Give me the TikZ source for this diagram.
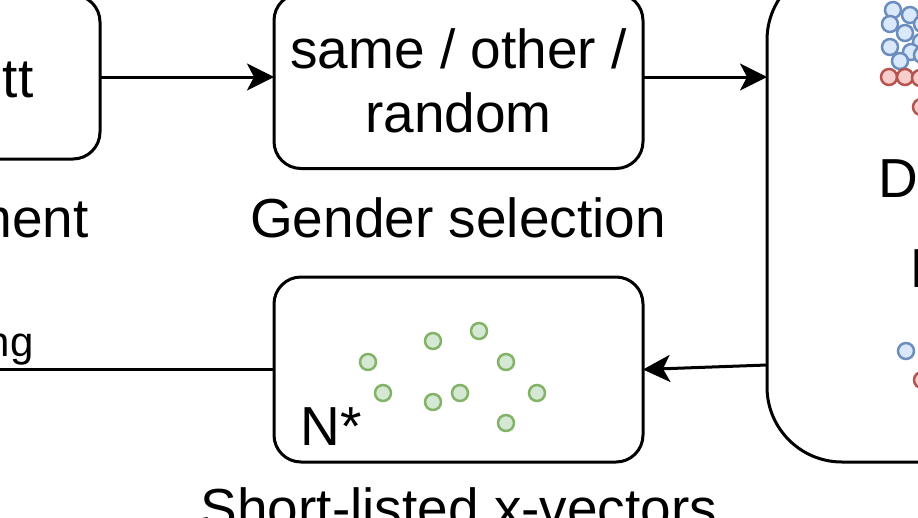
\documentclass[tikz,border=0pt]{standalone}
\usepackage{fontspec}
\setmainfont{Liberation Sans}
\usetikzlibrary{arrows.meta}

\definecolor{vecgreen}{HTML}{82B366}
\definecolor{vecgreenfill}{HTML}{D5E8D4}
\definecolor{vecblue}{HTML}{6C8EBF}
\definecolor{vecbluefill}{HTML}{DAE8FC}
\definecolor{vecred}{HTML}{B85450}
\definecolor{vecredfill}{HTML}{F8CECC}

\begin{document}
\begin{tikzpicture}[x=1pt,y=-1pt,
  box/.style={draw, line width=3pt, rounded corners=27pt, inner sep=0pt, outer sep=0pt},
  flow/.style={line width=3pt, -{Stealth[length=27pt,width=27pt,inset=7pt]}},
  big/.style={font=\fontsize{55pt}{64pt}\selectfont},
  small/.style={font=\fontsize{42pt}{50pt}\selectfont},
  xgreen/.style={draw=vecgreen, fill=vecgreenfill, line width=2.5pt},
  xblue/.style={draw=vecblue, fill=vecbluefill, line width=2.5pt},
  xred/.style={draw=vecred, fill=vecredfill, line width=2.5pt}]
\useasboundingbox (0,0) rectangle (918,517);
\clip (0,0) rectangle (918,517);

% boxes
\node[box, minimum width=350pt, minimum height=164pt] (enrol) at (-75,77) {};
\node[box, big, align=center, minimum width=369pt, minimum height=175pt] (gender) at (458.5,81) {same / other /\\random};
\node[box, rounded corners=75pt, minimum width=533pt, minimum height=497pt] (pool) at (1033.5,213.5) {};
\node[box, minimum width=369pt, minimum height=185pt] (short) at (458.5,369.5) {};

% labels
\node[big, anchor=base east] (enroltxt) at (37,97) {tt};
\node[big, anchor=base east] (enrolcap) at (92,237) {ment};
\node[big, anchor=base] (gendercap) at (458,237) {Gender selection};
\node[big, anchor=base west] (pooltxta) at (875,197) {D};
\node[big, anchor=base west] (pooltxtb) at (907,287) {N};
\node[big, anchor=base west] (nstar) at (297,445) {N*};
\node[big, anchor=base] (shortcap) at (459,527) {Short-listed x-vectors};
\node[small, anchor=base east] (linetxt) at (37,356) {ng};

% connectors
\coordinate (poolout) at (pool.west |- 0,365);
\coordinate (leftend) at (-20,369.5);
\draw[flow] (enrol.east) -- (enrol.east -| gender.west);
\draw[flow] (enrol.east -| gender.east) -- (enrol.east -| pool.west);
\draw[flow] (poolout) -- (short.east);
\draw[line width=3pt] (short.west) -- (leftend);

% x-vectors
\foreach \x/\y in {368/362, 433/341, 479/331, 506/362, 383/393, 433/402, 460/393, 537/393, 506/423}
  \draw[xgreen] (\x,\y) circle (8pt);
\foreach \x/\y in {893/10, 910/15, 890/24, 922/24, 905/33, 921/42, 890/47, 911/52, 922/55, 900/61, 906/351}
  \draw[xblue] (\x,\y) circle (8pt);
\foreach \x/\y in {889/77, 905/77, 920/78, 921/107, 922/380}
  \draw[xred] (\x,\y) circle (8pt);
\end{tikzpicture}
\end{document}
